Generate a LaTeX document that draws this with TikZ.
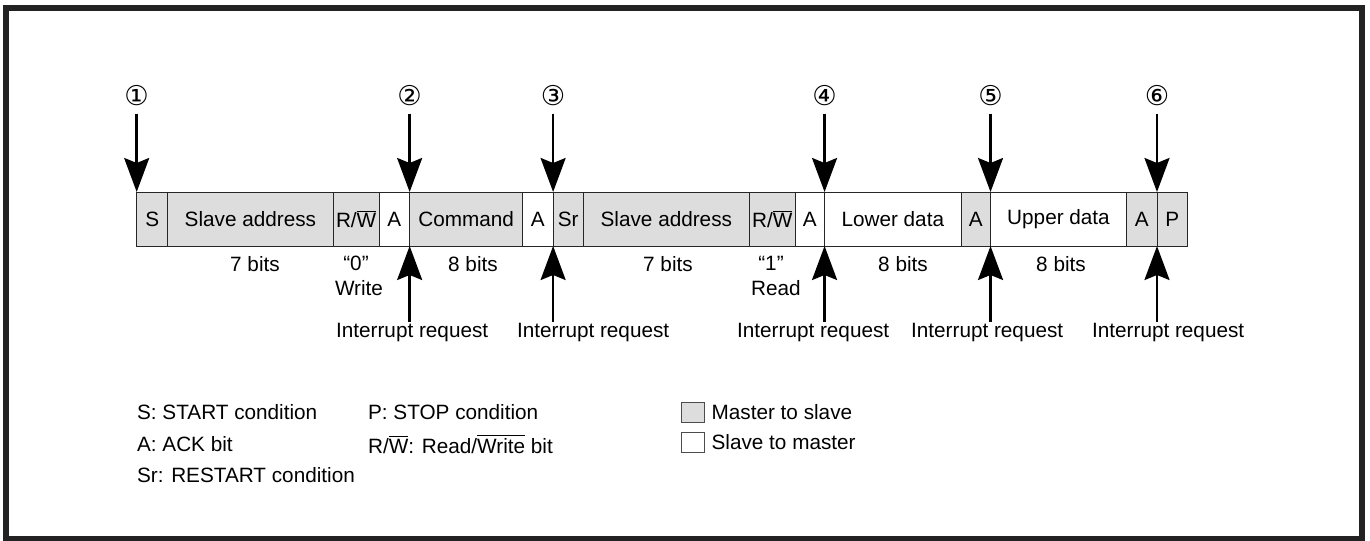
\documentclass[tikz,border=0pt]{standalone}
\usepackage{fontspec}
\setmainfont{Liberation Sans}
\newfontfamily\circfont{DejaVu Sans}
\usepackage{xcolor}
\definecolor{cellgray}{HTML}{DDDDDD}
\definecolor{framegray}{HTML}{222222}
\usetikzlibrary{arrows.meta,positioning,calc}

\newcommand{\rwbar}{R/$\overline{\mbox{W}}$}

\begin{document}
\begin{tikzpicture}[x=0.02cm, y=-0.02cm,
  font=\fontsize{11.8}{14}\selectfont,
  cell/.style={rectangle, draw=black!85, line width=0.5pt, minimum height=1.08cm,
               inner sep=0pt, outer sep=0pt},
  m2s/.style={cell, fill=cellgray},
  s2m/.style={cell, fill=white},
  num/.style={font=\circfont\fontsize{15.5}{18}\selectfont, inner sep=0pt, outer sep=0.15cm},
  arr/.style={-{Stealth[length=0.68cm, width=0.5cm, inset=0.1cm]}, line width=0.05cm},
  lbl/.style={inner sep=1pt},
  key/.style={inner sep=1pt, anchor=west},
]
\useasboundingbox (0,0) rectangle (1370,541);
\draw[line width=0.11cm, framegray] (6,8) rectangle (1362,539);

% ---------- the frame sequence
\node[m2s, minimum width=0.62cm, anchor=north west] (s) at (136.7,192) {S};
\node[m2s, minimum width=3.31cm, right=0pt of s]     (addr1) {Slave address};
\node[m2s, minimum width=0.92cm, right=0pt of addr1] (rw1)   {\rwbar};
\node[s2m, minimum width=0.61cm, right=0pt of rw1]   (ack1)  {A};
\node[m2s, minimum width=2.26cm, right=0pt of ack1]  (cmd)   {Command};
\node[s2m, minimum width=0.61cm, right=0pt of cmd]   (ack2)  {A};
\node[m2s, minimum width=0.60cm, right=0pt of ack2]  (sr)    {Sr};
\node[m2s, minimum width=3.33cm, right=0pt of sr]    (addr2) {Slave address};
\node[m2s, minimum width=0.91cm, right=0pt of addr2] (rw2)   {\rwbar};
\node[s2m, minimum width=0.59cm, right=0pt of rw2]   (ack3)  {A};
\node[s2m, minimum width=2.73cm, right=0pt of ack3]  (lo)    {Lower data};
\node[m2s, minimum width=0.59cm, right=0pt of lo]    (ack4)  {A};
\node[s2m, minimum width=2.72cm, right=0pt of ack4]  (hi)    {Upper data};
\node[m2s, minimum width=0.61cm, right=0pt of hi]    (ack5)  {A};
\node[m2s, minimum width=0.61cm, right=0pt of ack5]  (p)     {P};

% ---------- field widths under the bar
\node[lbl] (b1) at (255,264)  {7 bits};
\node[lbl] (q0) at (356,263)  {“0”};
\node[lbl] (wr) at (359,288)  {Write};
\node[lbl] (b2) at (473,264)  {8 bits};
\node[lbl] (b3) at (668,264)  {7 bits};
\node[lbl] (q1) at (771,263)  {“1”};
\node[lbl] (rd) at (776,288)  {Read};
\node[lbl] (b4) at (903,264)  {8 bits};
\node[lbl] (b5) at (1061,264) {8 bits};

% ---------- numbered points, arrows down onto the bar
\foreach \c/\t [count=\i] in {s/①, cmd/②, sr/③, lo/④, hi/⑤, p/⑥}
  \node[num] (n\i) at (\c.north west |- 0,96) {\t};
\foreach \c [count=\i] in {s, cmd, sr, lo, hi, p}
  \draw[arr] (n\i) -- (\c.north west);

% ---------- interrupt requests, arrows up into the bar
\node[lbl, anchor=west] (ir1) at (334,333)   {Interrupt request};
\node[lbl, anchor=west] (ir2) at (515,333)   {Interrupt request};
\node[lbl, anchor=west] (ir3) at (735,333)   {Interrupt request};
\node[lbl, anchor=west] (ir4) at (909,333)   {Interrupt request};
\node[lbl, anchor=west] (ir5) at (1090,333)  {Interrupt request};
\foreach \c [count=\i] in {cmd, sr, lo, hi, p}
  \draw[arr] (\c.south west |- ir\i.north) -- (\c.south west);

% ---------- legend
\node[key] (ks)  at (135,412) {S: START condition};
\node[key] (ka)  at (135,444) {A: ACK bit};
\node[key] (ksr) at (135,475) {Sr: RESTART condition};
\node[key] (kp)  at (366,412) {P: STOP condition};
\node[key] (krw) at (366,444) {\rwbar: Read/$\overline{\mbox{Write}}$ bit};
\node[m2s, minimum width=0.46cm, minimum height=0.4cm, draw=black!70] (bm) at (693,412) {};
\node[s2m, minimum width=0.46cm, minimum height=0.4cm, draw=black!70] (bs) at (693,442) {};
\node[key, right=0.1cm of bm] (km) {Master to slave};
\node[key, right=0.1cm of bs] (kl) {Slave to master};
\end{tikzpicture}
\end{document}
